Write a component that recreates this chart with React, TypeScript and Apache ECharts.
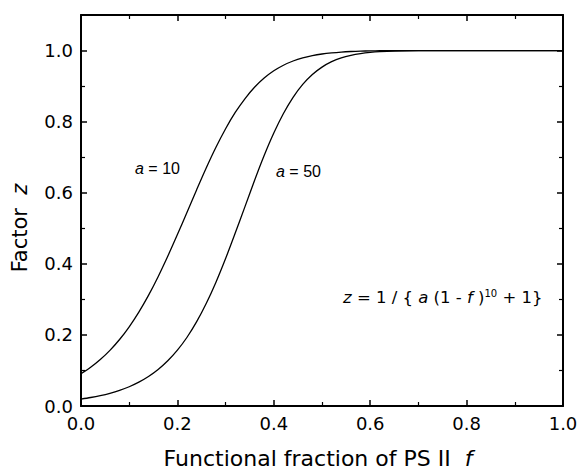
import React, { useEffect, useRef } from "react";
import * as echarts from "echarts";

const fValues = [0, 0.02, 0.04, 0.06, 0.08, 0.1, 0.12, 0.14, 0.16, 0.18, 0.2, 0.22, 0.24, 0.26, 0.28, 0.3, 0.32, 0.34, 0.36, 0.38, 0.4, 0.42, 0.44, 0.46, 0.48, 0.5, 0.52, 0.54, 0.56, 0.58, 0.6, 0.62, 0.65, 0.7, 0.75, 0.8, 0.9, 1.0];
const zA10 = [0.0909, 0.109, 0.1308, 0.1566, 0.1871, 0.2229, 0.2642, 0.3112, 0.3638, 0.4212, 0.4822, 0.5453, 0.6086, 0.6702, 0.7278, 0.78, 0.8258, 0.8643, 0.8966, 0.9226, 0.943, 0.9587, 0.9706, 0.9794, 0.9857, 0.9903, 0.9935, 0.9958, 0.9973, 0.9983, 0.999, 0.9994, 0.9997, 0.9999, 1.0, 1.0, 1.0, 1.0];
const zA50 = [0.0196, 0.0239, 0.0292, 0.0358, 0.044, 0.0542, 0.067, 0.0829, 0.1026, 0.1271, 0.157, 0.1934, 0.2372, 0.289, 0.3484, 0.4149, 0.4866, 0.5602, 0.6343, 0.7045, 0.7678, 0.8228, 0.8683, 0.9046, 0.9326, 0.9534, 0.9686, 0.9794, 0.9866, 0.9915, 0.9948, 0.9969, 0.9986, 0.9997, 0.9999, 1.0, 1.0, 1.0];
const seriesNames = ["a = 10", "a = 50"];

const FONT = "DejaVu Sans, Verdana, sans-serif";
const FONT2 = "Liberation Sans, Arial, Helvetica, sans-serif";

export default function App() {
  const ref = useRef<HTMLDivElement>(null);
  useEffect(() => {
    if (!ref.current) return;
    const chart = echarts.init(ref.current, null, { renderer: "svg" });
    const axisCommon = {
      type: "value" as const,
      axisLine: { show: true, onZero: false, lineStyle: { color: "#000", width: 2 } },
      axisTick: { show: true, inside: true, length: 6, lineStyle: { color: "#000", width: 1.5 } },
      minorTick: { show: true, splitNumber: 2, length: 4, lineStyle: { color: "#000", width: 1.2 } },
      splitLine: { show: false },
    };
    const xLabel = { color: "#000", fontSize: 18, fontFamily: FONT, margin: 8, formatter: (v: number) => v.toFixed(1) };
    const yLabel = {
      color: "#000", fontSize: 18, fontFamily: FONT, margin: 8,
      formatter: (v: number) => (Math.abs(v * 10 - Math.round(v * 10)) < 1e-6 && Math.round(v * 10) % 2 === 0 && v <= 1.0001 ? v.toFixed(1) : ""),
    };
    const makeSeries = (data: number[], name: string) => ({
      type: "line" as const,
      name,
      data: fValues.map((f, i) => [f, data[i]]),
      showSymbol: false,
      smooth: 0.3,
      lineStyle: { color: "#000", width: 1.3 },
      xAxisIndex: 0,
      yAxisIndex: 0,
    });
    const ital = (size: number, font: string) => ({ fontStyle: "italic", fontSize: size, fontFamily: font, fill: "#000" });
    chart.setOption({
      animation: false,
      backgroundColor: "#fff",
      grid: { left: 81, top: 15, right: 16, bottom: 64, containLabel: false, outerBoundsMode: "none" },
      xAxis: [
        {
          ...axisCommon, position: "bottom", min: 0, max: 1, interval: 0.2, axisLabel: xLabel,
          name: "Functional fraction of PS II  {i|f}", nameLocation: "middle", nameGap: 40,
          nameTextStyle: { color: "#000", fontSize: 22, lineHeight: 24, fontFamily: FONT, padding: [0, 8, 0, 0], rich: { i: { fontStyle: "italic", fontSize: 22, lineHeight: 24, fontFamily: FONT, color: "#000" } } },
        },
        { ...axisCommon, position: "top", min: 0, max: 1, interval: 0.2, axisLabel: { show: false } },
      ],
      yAxis: [
        { ...axisCommon, position: "left", min: 0, max: 1.1, interval: 0.2, axisLabel: yLabel },
        { ...axisCommon, position: "right", min: 0, max: 1.1, interval: 0.2, axisLabel: { show: false } },
      ],
      series: [makeSeries(zA10, seriesNames[0]), makeSeries(zA50, seriesNames[1])],
      graphic: [
        {
          type: "text", x: 20, y: 228, rotation: Math.PI / 2,
          style: { text: "Factor  {i|z}", align: "center", verticalAlign: "middle", rich: { i: ital(21, FONT) }, fontSize: 21, fontFamily: FONT, fill: "#000" },
        },
        {
          type: "text", x: 135, y: 168,
          style: { text: "{i|a} = 10", verticalAlign: "middle", rich: { i: ital(16, FONT2) }, fontSize: 16, fontFamily: FONT2, fill: "#000" },
        },
        {
          type: "text", x: 276, y: 171,
          style: { text: "{i|a} = 50", verticalAlign: "middle", rich: { i: ital(16, FONT2) }, fontSize: 16, fontFamily: FONT2, fill: "#000" },
        },
        {
          type: "text", x: 343, y: 297,
          style: {
            text: "{i|z} = 1 / { {i|a} (1 - {i|f} ){s|10} + 1}",
            verticalAlign: "middle",
            rich: {
              i: ital(16.5, FONT),
              s: { fontSize: 10, fontFamily: FONT, fill: "#000", verticalAlign: "top", padding: [0, 0, 8, 0] },
            },
            fontSize: 16.5, fontFamily: FONT, fill: "#000",
          },
        },
      ],
    });
    return () => chart.dispose();
  }, []);
  return <div ref={ref} style={{ width: 579, height: 470, position: "absolute", left: 0, top: 0 }} />;
}
